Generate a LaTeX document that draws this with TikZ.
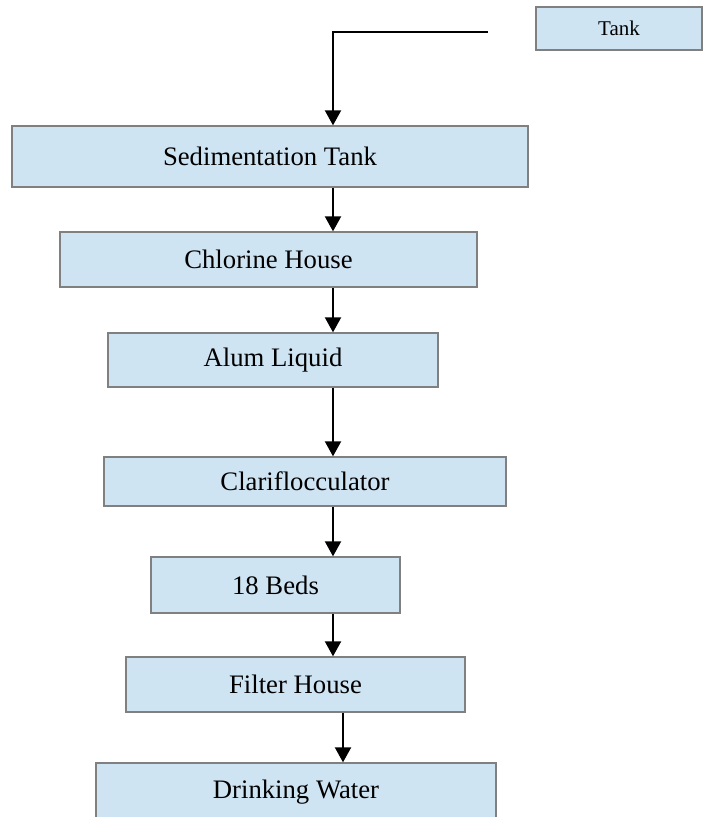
\documentclass[tikz,border=0pt]{standalone}
\usepackage{fontspec}
\setmainfont{Liberation Serif}
\usetikzlibrary{arrows.meta,calc}
\definecolor{boxfill}{RGB}{207,228,243}
\definecolor{boxline}{RGB}{128,128,128}
\begin{document}
\begin{tikzpicture}[x=1pt, y=-1pt,
  box/.style={draw=boxline, line width=1.3pt, fill=boxfill, inner sep=0pt,
    font=\fontsize{26.7pt}{30pt}\selectfont},
  flow/.style={line width=2pt, -{Triangle[width=16pt,length=15pt]}}]
\useasboundingbox (0,0) rectangle (707,817);
% stages
\node[box, minimum width=166pt, minimum height=43pt, font=\fontsize{21pt}{24pt}\selectfont] (tank) at (619,28.5) {Tank};
\foreach \n/\x/\y/\w/\h/\t in {sed/270/156.5/516/61/Sedimentation Tank,
  chl/268.5/259.5/417/55/Chlorine House, alum/273/360/330/54/Alum Liquid,
  clar/305/481.5/402/49/Clariflocculator, beds/275.5/585/249/56/18 Beds,
  filt/295.5/684.5/339/55/Filter House, drink/296/792/400/58/Drinking Water}
  \node[box, minimum width=\w pt, minimum height=\h pt] (\n) at (\x,\y) {\t};
% flow lines
\coordinate (inlet) at (488,32);
\coordinate (ax) at (333,0);
\coordinate (bx) at (343,0);
\draw[flow] (inlet) -- (inlet -| ax) -- (sed.north -| ax);
\foreach \a/\b in {sed/chl, chl/alum, alum/clar, clar/beds, beds/filt}
  \draw[flow] (\a.south -| ax) -- (\b.north -| ax);
\draw[flow] (filt.south -| bx) -- (drink.north -| bx);
\end{tikzpicture}
\end{document}
